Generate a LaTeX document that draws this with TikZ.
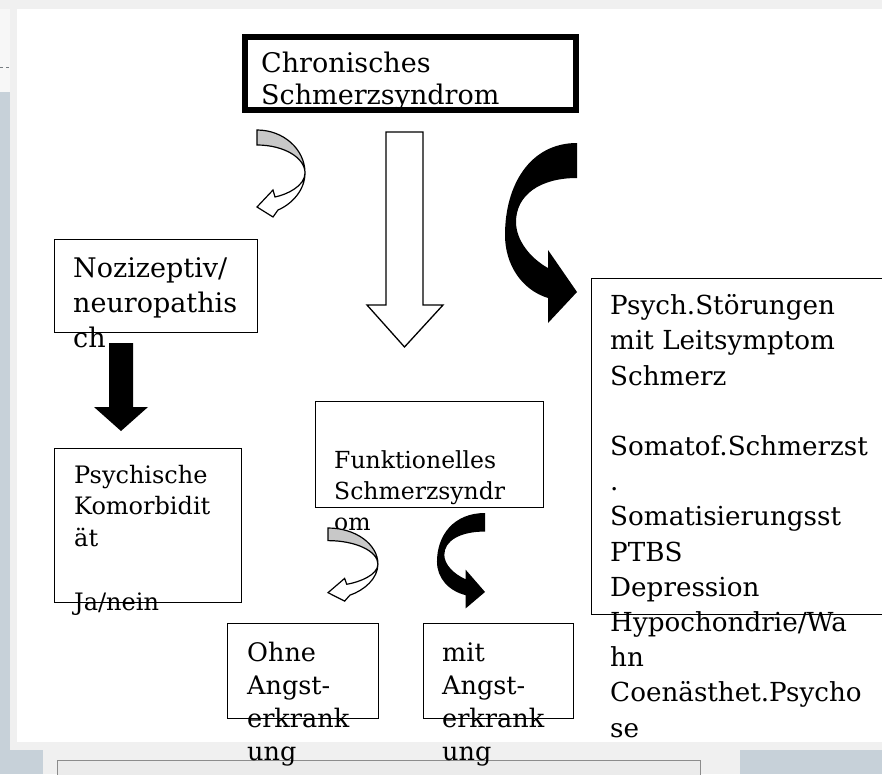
\documentclass[tikz,border=0pt]{standalone}
\usepackage{fontspec}
\setmainfont{DejaVu Serif}
\usetikzlibrary{positioning}

\definecolor{framegray}{HTML}{F0F0F0}
\definecolor{slategray}{HTML}{C7D1D9}
\definecolor{ribbongray}{HTML}{C8C8C8}

\tikzset{
    box/.style={rectangle, draw=black, line width=1.3pt, inner sep=0pt, anchor=north west},
    thickbox/.style={box, line width=6pt},
    % anchored at the baseline of the last line
    txt/.style={anchor=base west, align=left, inner sep=0pt},
    % curved arrow with grey back side, origin = top left of the ribbon
    grayturn/.pic={
        \filldraw[fill=white, draw=black, line width=1.2pt] (48,43) .. controls (48,60) and (35,74) .. (21,80)
            -- (16,87) -- (0,77) -- (16,60) -- (18,67) .. controls (30,64.5) and (48,56) .. (48,43) -- cycle;
        \filldraw[fill=ribbongray, draw=black, line width=1.2pt] (0,0) .. controls (26.5,0) and (48,19.3) .. (48,43)
            .. controls (48,27.5) and (26.5,15) .. (0,15) -- cycle;
    },
    % solid black curved arrow, origin = top right of the ribbon
    blackturn/.pic={
        \fill[black] (0,0) .. controls (-47,0) and (-72,42) .. (-72,92) .. controls (-72,122) and (-55,147) .. (-29,155)
            -- (-29,180) -- (0,149) -- (-29,107) -- (-29,125) .. controls (-47,115) and (-61,97) .. (-61,79)
            .. controls (-61,52) and (-37,35) .. (0,35) -- cycle;
    },
}

\begin{document}
\begin{tikzpicture}[x=1pt, y=-1pt]
    \useasboundingbox (0,0) rectangle (882,774);
    \clip (0,0) rectangle (882,774);

    % screen background
    \fill[framegray] (0,0) rectangle (882,774);
    \fill[white!97!black] (0,9) rectangle (10,92);
    \draw[slategray!60!black, dashed] (0,67) -- (9,67);
    \fill[slategray] (0,92) rectangle (10,774);
    \fill[white] (17,9) rectangle (882,742);
    \fill[slategray] (0,750) rectangle (43,774);
    \fill[slategray] (740,750) rectangle (882,774);
    \filldraw[fill=black!8, draw=black!45] (57,760) rectangle (700,790);

    % boxes
    \node[thickbox, minimum width=331, minimum height=72.5] (chron) at (241.5,34) {};
    \node[box, minimum width=203, minimum height=93] (nozi) at (54,239) {};
    \node[box, minimum width=187, minimum height=154] (psyk) at (54,448) {};
    \node[box, minimum width=228, minimum height=106] (funk) at (315,401) {};
    \node[box, minimum width=151, minimum height=95] (ohne) at (227,623) {};
    \node[box, minimum width=150, minimum height=95] (mit) at (423,623) {};
    \node[box, minimum width=310, minimum height=336] (stoer) at (591,278) {};

    % texts
    \node[txt, font=\fontsize{27}{32}\selectfont] (chronT) at ([shift={(19.5,70)}]chron.north west) {Chronisches\\Schmerzsyndrom};
    \node[txt, font=\fontsize{27}{35}\selectfont] (noziT) at ([shift={(19,108)}]nozi.north west) {Nozizeptiv/\\neuropathis\\ch};
    \node[txt, font=\fontsize{24}{31.7}\selectfont] (psykT) at ([shift={(20,162)}]psyk.north west) {Psychische\\Komorbidit\\ät\\[31.7pt]Ja/nein};
    \node[txt, font=\fontsize{23.5}{31}\selectfont] (funkT) at ([shift={(19,129)}]funk.north west) {Funktionelles\\Schmerzsyndr\\om};
    \node[txt, font=\fontsize{25.5}{32.7}\selectfont] (ohneT) at ([shift={(20,137)}]ohne.north west) {Ohne\\Angst-\\erkrank\\ung};
    \node[txt, font=\fontsize{25.5}{32.7}\selectfont] (mitT) at ([shift={(19,137)}]mit.north west) {mit\\Angst-\\erkrank\\ung};
    \node[txt, font=\fontsize{26.2}{35.2}\selectfont] (stoerT) at ([shift={(19,459)}]stoer.north west)
        {Psych.Störungen\\mit Leitsymptom\\Schmerz\\[35.2pt]Somatof.Schmerzst\\.\\Somatisierungsst\\PTBS\\Depression\\Hypochondrie/Wa\\hn\\Coenästhet.Psycho\\se};

    % block arrows
    \filldraw[fill=white, draw=black, line width=1.3pt] (386,132) -- (423,132) -- (423,305) -- (443,305) -- (404.5,347)
        -- (367,305) -- (386,305) -- cycle;
    \fill[black] (109,343) -- (133,343) -- (133,407) -- (148,407) -- (121,431) -- (94,407) -- (109,407) -- cycle;
    \pic at (257,130) {grayturn};
    \pic[xscale=1.04, yscale=0.84] at (328,528) {grayturn};
    \pic at (577,143) {blackturn};
    \pic[xscale=0.667, yscale=0.53] at (485,513) {blackturn};
\end{tikzpicture}
\end{document}
